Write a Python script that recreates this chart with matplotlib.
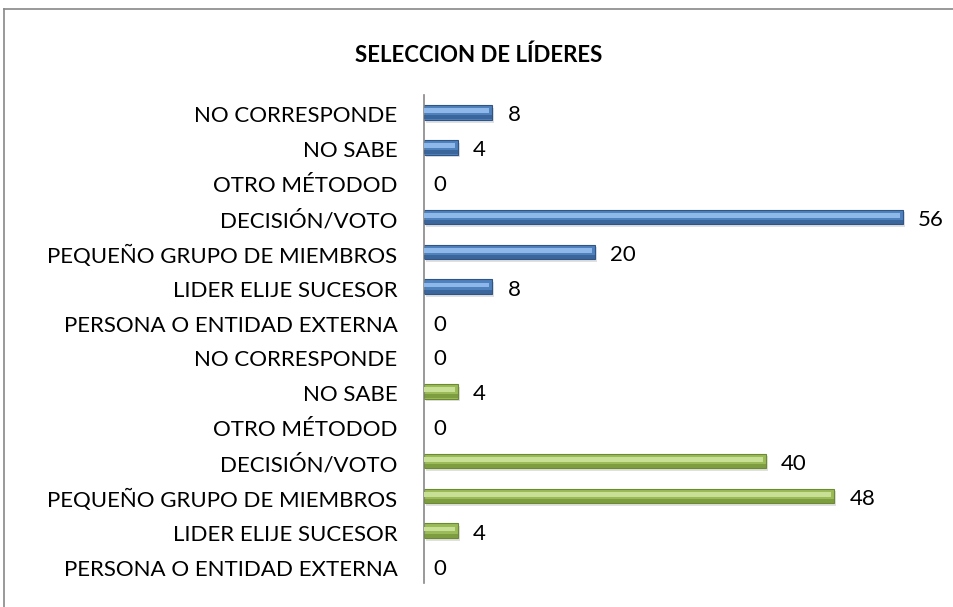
import matplotlib.pyplot as plt
import matplotlib.transforms as mtransforms
from matplotlib.lines import Line2D

# Datos (de arriba hacia abajo)
categorias = [
    'NO CORRESPONDE', 'NO SABE', 'OTRO MÉTODOD', 'DECISIÓN/VOTO',
    'PEQUEÑO GRUPO DE MIEMBROS', 'LIDER ELIJE SUCESOR', 'PERSONA O ENTIDAD EXTERNA',
    'NO CORRESPONDE', 'NO SABE', 'OTRO MÉTODOD', 'DECISIÓN/VOTO',
    'PEQUEÑO GRUPO DE MIEMBROS', 'LIDER ELIJE SUCESOR', 'PERSONA O ENTIDAD EXTERNA',
]
valores_azul = [8, 4, 0, 56, 20, 8, 0]
valores_verde = [0, 4, 0, 40, 48, 4, 0]
valores = valores_azul + valores_verde

# Colores (claro, medio, oscuro) para simular el bisel de Excel
azul = ('#8FB8EA', '#4F81BD', '#2F5486')
verde = ('#C8E096', '#9BBB59', '#6B8A32')
colores = [azul] * len(valores_azul) + [verde] * len(valores_verde)

plt.rcParams['font.family'] = ['Lato', 'DejaVu Sans']

fig = plt.figure(figsize=(9.54, 6.07), dpi=100)
ax = fig.add_axes([424 / 954, 1 - 583 / 607, 513 / 954, 488 / 607])

pos = list(range(len(valores)))
h = 0.42
for y, v, (claro, medio, oscuro) in zip(pos, valores, colores):
    if v == 0:
        continue
    # sombra
    ax.barh(y + 0.08, v, height=h, left=0.2, color='#000000', alpha=0.12, zorder=1)
    # cuerpo
    ax.barh(y, v, height=h, color=medio, edgecolor=oscuro, linewidth=0.8, zorder=2)
    # brillo superior
    ax.barh(y - 0.05, v - 0.4, height=0.14, left=0.05, color=claro, linewidth=0, zorder=3)
    # banda oscura inferior
    ax.barh(y + 0.14, v, height=0.12, color=oscuro, linewidth=0, alpha=0.6, zorder=3)

for y, v in zip(pos, valores):
    off = 15 if v > 0 else 9
    ax.annotate(str(v), (v, y), xytext=(off, -3), textcoords='offset pixels',
                ha='left', va='center', fontsize=16, color='black')

ax.set_xlim(0, 60)
ax.set_ylim(len(valores) - 0.5, -0.5)
ax.set_yticks(pos)
ax.set_yticklabels(categorias, fontsize=16)
ax.tick_params(axis='y', length=0, pad=19)
desplazar = mtransforms.ScaledTranslation(0, -2 / 100, fig.dpi_scale_trans)
for etiqueta in ax.get_yticklabels():
    etiqueta.set_transform(etiqueta.get_transform() + desplazar)
ax.set_xticks([])
for lado in ['top', 'right', 'bottom']:
    ax.spines[lado].set_visible(False)
ax.spines['left'].set_color('#888888')
ax.spines['left'].set_linewidth(1.2)

fig.text(479 / 954, 1 - 55 / 607, 'SELECCION DE LÍDERES', ha='center', va='center',
         fontsize=16, fontweight='bold')

# marco del gráfico
fig.add_artist(Line2D([4 / 954, 4 / 954], [0, 1 - 9 / 607], transform=fig.transFigure,
                      color='#888888', linewidth=1.2))
fig.add_artist(Line2D([4 / 954, 1], [1 - 9 / 607, 1 - 9 / 607], transform=fig.transFigure,
                      color='#888888', linewidth=1.2))

fig.savefig('out.png', dpi=100)
